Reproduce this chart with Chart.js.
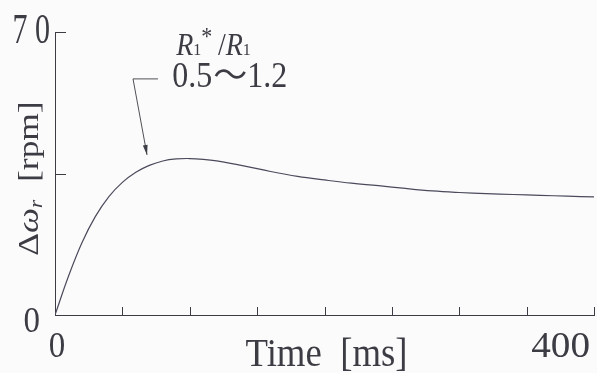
<!DOCTYPE html>
<html>
<head>
<meta charset="utf-8">
<script src="https://cdn.jsdelivr.net/npm/chart.js@4/dist/chart.umd.min.js"></script>
<style>
html,body{margin:0;padding:0;background:#fbfbfb;}
#wrap{width:597px;height:373px;position:relative;}
</style>
</head>
<body>
<div id="wrap"><canvas id="c" width="597" height="373"></canvas></div>
<script>
// ---- data ----
const timeMs = [0,10,20,30,40,50,60,70,80,90,100,110,120,140,160,180,200,220,240,260,280,300,320,340,360,380,400];
const speedDev = [0,9.6,17.9,24.4,29.3,32.8,35.3,37.0,38.1,38.6,38.7,38.5,38.1,36.9,35.5,34.3,33.4,32.6,32.0,31.3,30.7,30.3,30.0,29.8,29.6,29.4,29.2];
const xTickValues = [0,50,100,150,200,250,300,350,400];
const yTickValues = [0,35,70];
const xTickLabels = {0:'0', 400:'400'};
const yTickLabels = {0:'0', 70:'7 0'};
const xTitle = 'Time\u2002[ms]';

// annotation anchors in data units
const annotText = {x: 87, y1: 64.3, y2: 56.4};
const leader = [{x:76.4,y:58.4},{x:57.9,y:58.4},{x:68.3,y:39.6}];

const INK = '#3c3c44';
const SERIF = '"Liberation Serif", "DejaVu Serif", serif';

function txt(ctx, s, x, y, font, align, sy, sx){
  ctx.save();
  ctx.translate(x, y);
  ctx.scale(sx||1, sy||1);
  ctx.font = font;
  ctx.textAlign = align || 'left';
  ctx.textBaseline = 'alphabetic';
  ctx.fillText(s, 0, 0);
  ctx.restore();
}

const bgPlugin = {
  id:'bg',
  beforeDraw(chart){
    const ctx = chart.ctx;
    ctx.save(); ctx.fillStyle = '#fbfbfb'; ctx.fillRect(0,0,chart.width,chart.height); ctx.restore();
  }
};

const decor = {
  id:'decor',
  afterDraw(chart){
    const ctx = chart.ctx;
    const xs = chart.scales.x, ys = chart.scales.y;
    const ca = chart.chartArea;
    ctx.save();
    ctx.strokeStyle = INK; ctx.fillStyle = INK; ctx.lineWidth = 1;
    // inward ticks
    ctx.beginPath();
    xTickValues.forEach(v=>{
      if (v===0) return;
      const px = Math.round(xs.getPixelForValue(v))+0.5;
      ctx.moveTo(px, ca.bottom); ctx.lineTo(px, ca.bottom-8);
    });
    yTickValues.forEach(v=>{
      if (v===0) return;
      const py = Math.round(ys.getPixelForValue(v))+0.5;
      ctx.moveTo(ca.left, py); ctx.lineTo(ca.left+11, py);
    });
    ctx.stroke();
    // tick labels
    yTickValues.forEach(v=>{
      const lab = yTickLabels[v]; if (!lab) return;
      const py = ys.getPixelForValue(v);
      if (v===70) txt(ctx, lab, ca.left-5, py+11, '30px '+SERIF, 'right', 1.4);
      else txt(ctx, lab, ca.left-15, py+17, '33px '+SERIF, 'right', 1.1);
    });
    xTickValues.forEach(v=>{
      const lab = xTickLabels[v]; if (!lab) return;
      const px = xs.getPixelForValue(v);
      if (v===0) txt(ctx, lab, px+2, ca.bottom+42, '33px '+SERIF, 'center', 1.08);
      else txt(ctx, lab, px-4, ca.bottom+42, '35px '+SERIF, 'right', 1.02, 1.12);
    });
    // x title
    txt(ctx, xTitle, (ca.left+ca.right)/2+2, ca.bottom+51, '35px '+SERIF, 'center', 1.12, 1.05);
    // y title (rotated)
    ctx.save();
    ctx.translate(38, (ca.top+ca.bottom)/2+5);
    ctx.rotate(-Math.PI/2);
    ctx.scale(1.18,1);
    const parts = [
      {s:'\u0394', f:'30px '+SERIF, dy:0},
      {s:'\u03C9', f:'italic 30px '+SERIF, dy:0},
      {s:'r', f:'italic 18px '+SERIF, dy:4},
      {s:'\u2002[rpm]', f:'30px '+SERIF, dy:0}
    ];
    let total = 0;
    parts.forEach(p=>{ ctx.font=p.f; p.w=ctx.measureText(p.s).width; total+=p.w; });
    let cx = -total/2;
    ctx.textBaseline='alphabetic'; ctx.textAlign='left';
    parts.forEach(p=>{ ctx.font=p.f; ctx.fillText(p.s, cx, p.dy); cx+=p.w; });
    ctx.restore();
    // annotation text
    const ax = xs.getPixelForValue(annotText.x);
    const ay1 = ys.getPixelForValue(annotText.y1);
    const ay2 = ys.getPixelForValue(annotText.y2);
    const l1 = [
      {s:'R', f:'italic 28px '+SERIF, dy:0},
      {s:'1', f:'16px '+SERIF, dy:0},
      {s:'*', f:'22px '+SERIF, dy:-9},
      {s:'\u2009/', f:'28px '+SERIF, dy:0},
      {s:'R', f:'italic 28px '+SERIF, dy:0},
      {s:'1', f:'16px '+SERIF, dy:0}
    ];
    ctx.save();
    ctx.translate(ax+4, ay1); ctx.scale(1,1.1);
    ctx.textBaseline='alphabetic'; ctx.textAlign='left';
    let lx = 0;
    l1.forEach(p=>{ ctx.font=p.f; ctx.fillText(p.s, lx, p.dy); lx += ctx.measureText(p.s).width; });
    ctx.restore();
    txt(ctx, '0.5', ax, ay2, '32px '+SERIF, 'left', 1.1);
    ctx.font = '32px '+SERIF;
    const w05 = ctx.measureText('0.5').width;
    txt(ctx, '\u301C', ax+w05+1, ay2, '34px "Noto Sans CJK JP", sans-serif', 'left', 1.0);
    ctx.font = '34px "Noto Sans CJK JP", sans-serif';
    const wt = ctx.measureText('\u301C').width;
    txt(ctx, '1.2', ax+w05+wt+1, ay2, '32px '+SERIF, 'left', 1.1);
    // leader + arrow
    const pts = leader.map(p=>({x:xs.getPixelForValue(p.x), y:ys.getPixelForValue(p.y)}));
    ctx.lineWidth = 0.9;
    ctx.beginPath();
    ctx.moveTo(pts[0].x, pts[0].y); ctx.lineTo(pts[1].x, pts[1].y); ctx.lineTo(pts[2].x, pts[2].y);
    ctx.stroke();
    const a = Math.atan2(pts[2].y-pts[1].y, pts[2].x-pts[1].x);
    const L = 10, W = 2.4;
    ctx.beginPath();
    ctx.moveTo(pts[2].x, pts[2].y);
    ctx.lineTo(pts[2].x - L*Math.cos(a) + W*Math.sin(a), pts[2].y - L*Math.sin(a) - W*Math.cos(a));
    ctx.lineTo(pts[2].x - L*Math.cos(a) - W*Math.sin(a), pts[2].y - L*Math.sin(a) + W*Math.cos(a));
    ctx.closePath(); ctx.fill();
    ctx.restore();
  }
};

function build(){
  new Chart(document.getElementById('c'), {
    type:'line',
    data:{
      datasets:[{
        data: timeMs.map((t,i)=>({x:t, y:speedDev[i]})),
        borderColor:'#4a4a5c',
        borderWidth:1.2,
        pointRadius:0,
        tension:0.4,
        fill:false
      }]
    },
    options:{
      responsive:false,
      animation:false,
      events:[],
      layout:{padding:{top:32,right:3,left:0,bottom:0}},
      plugins:{legend:{display:false}, tooltip:{enabled:false}},
      scales:{
        x:{
          type:'linear', min:0, max:400,
          afterBuildTicks(s){ s.ticks = xTickValues.map(v=>({value:v})); },
          afterFit(s){ s.height = 58; },
          ticks:{display:false},
          grid:{display:true, drawOnChartArea:false, drawTicks:false},
          border:{display:true, color:INK, width:1}
        },
        y:{
          type:'linear', min:0, max:70,
          afterBuildTicks(s){ s.ticks = yTickValues.map(v=>({value:v})); },
          afterFit(s){ s.width = 55; },
          ticks:{display:false},
          grid:{display:true, drawOnChartArea:false, drawTicks:false},
          border:{display:true, color:INK, width:1}
        }
      }
    },
    plugins:[bgPlugin, decor]
  });
}
if (document.fonts && document.fonts.load) {
  Promise.all([
    document.fonts.load('30px "Liberation Serif"'),
    document.fonts.load('italic 30px "Liberation Serif"'),
    document.fonts.load('30px "Noto Sans CJK JP"')
  ]).then(build, build);
} else build();
</script>
</body>
</html>
